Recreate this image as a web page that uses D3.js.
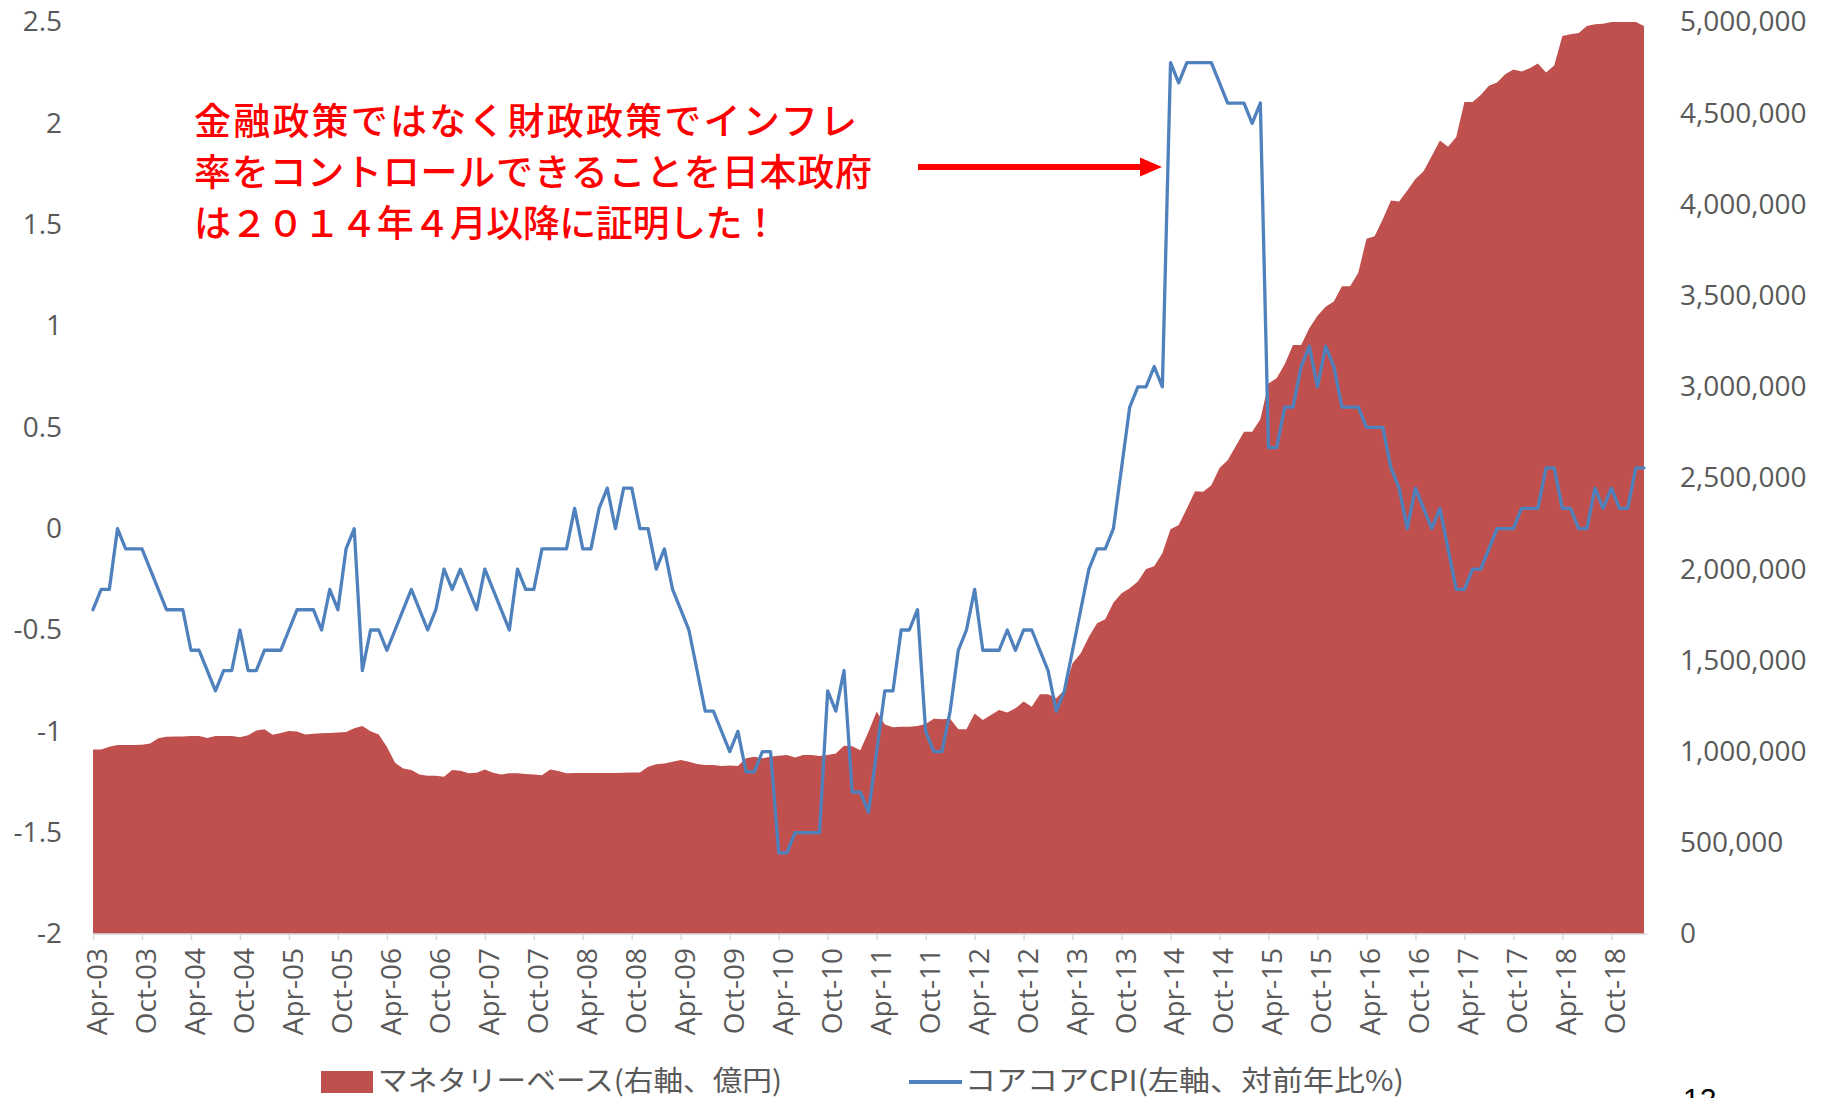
<!DOCTYPE html>
<html><head><meta charset="utf-8">
<script src="https://cdn.jsdelivr.net/npm/d3@7"></script>
<style>body{margin:0;background:#fff}</style>
</head><body><svg id="c" width="1824" height="1098"></svg>
<script>
// Core-core CPI (left axis, y/y %), monthly Apr-03 .. Feb-19
const cpi = [
 -0.4,-0.3,-0.3,0.0,-0.1,-0.1,-0.1,-0.2,-0.3,-0.4,-0.4,-0.4,
 -0.6,-0.6,-0.7,-0.8,-0.7,-0.7,-0.5,-0.7,-0.7,-0.6,-0.6,-0.6,
 -0.5,-0.4,-0.4,-0.4,-0.5,-0.3,-0.4,-0.1,0.0,-0.7,-0.5,-0.5,
 -0.6,-0.5,-0.4,-0.3,-0.4,-0.5,-0.4,-0.2,-0.3,-0.2,-0.3,-0.4,
 -0.2,-0.3,-0.4,-0.5,-0.2,-0.3,-0.3,-0.1,-0.1,-0.1,-0.1,0.1,
 -0.1,-0.1,0.1,0.2,0.0,0.2,0.2,0.0,0.0,-0.2,-0.1,-0.3,
 -0.4,-0.5,-0.7,-0.9,-0.9,-1.0,-1.1,-1.0,-1.2,-1.2,-1.1,-1.1,
 -1.6,-1.6,-1.5,-1.5,-1.5,-1.5,-0.8,-0.9,-0.7,-1.3,-1.3,-1.4,
 -1.1,-0.8,-0.8,-0.5,-0.5,-0.4,-1.0,-1.1,-1.1,-0.9,-0.6,-0.5,
 -0.3,-0.6,-0.6,-0.6,-0.5,-0.6,-0.5,-0.5,-0.6,-0.7,-0.9,-0.8,
 -0.6,-0.4,-0.2,-0.1,-0.1,0.0,0.3,0.6,0.7,0.7,0.8,0.7,
 2.3,2.2,2.3,2.3,2.3,2.3,2.2,2.1,2.1,2.1,2.0,2.1,
 0.4,0.4,0.6,0.6,0.8,0.9,0.7,0.9,0.8,0.6,0.6,0.6,
 0.5,0.5,0.5,0.3,0.2,0.0,0.2,0.1,0.0,0.1,-0.1,-0.3,
 -0.3,-0.2,-0.2,-0.1,0.0,0.0,0.0,0.1,0.1,0.1,0.3,0.3,
 0.1,0.1,0.0,0.0,0.2,0.1,0.2,0.1,0.1,0.3,0.3
];
// Monetary base (right axis, 100 million yen)
const monetaryBase = [
 1012000,1012000,1027000,1036000,1036000,1036000,1038000,1045000,1073000,1082000,1083000,1083000,
 1085000,1086000,1074000,1086000,1086000,1085000,1078000,1090000,1115000,1122000,1092000,1102000,
 1113000,1110000,1094000,1098000,1100000,1102000,1105000,1108000,1128000,1140000,1112000,1094000,
 1027000,939000,908000,899000,875000,868000,868000,862000,899000,895000,881000,884000,
 902000,884000,875000,881000,881000,877000,875000,871000,902000,893000,881000,882000,
 882000,882000,882000,882000,883000,884000,886000,886000,917000,931000,935000,945000,
 954000,945000,932000,927000,927000,921000,924000,921000,963000,972000,963000,972000,
 977000,981000,968000,981000,981000,976000,981000,990000,1032000,1030000,1008000,1109000,
 1220000,1149000,1133000,1136000,1136000,1140000,1151000,1180000,1177000,1180000,1122000,1122000,
 1209000,1173000,1200000,1228000,1215000,1237000,1274000,1246000,1314000,1314000,1292000,1338000,
 1484000,1539000,1630000,1703000,1725000,1816000,1868000,1895000,1932000,2001000,2016000,2087000,
 2219000,2243000,2333000,2428000,2424000,2460000,2555000,2597000,2675000,2753000,2753000,2822000,
 3018000,3047000,3125000,3229000,3229000,3321000,3390000,3439000,3468000,3551000,3551000,3625000,
 3811000,3825000,3919000,4021000,4016000,4076000,4139000,4182000,4266000,4350000,4316000,4370000,
 4562000,4562000,4600000,4651000,4668000,4713000,4739000,4729000,4747000,4772000,4723000,4762000,
 4923000,4933000,4940000,4978000,4987000,4991000,5000000,5000000,5000000,5000000,4978000
];
const categories = d3.timeMonth.range(new Date(2003,3,1), new Date(2019,2,1)).map(d3.timeFormat("%b-%y"));
const xTickLabels = ["Apr-03","Oct-03","Apr-04","Oct-04","Apr-05","Oct-05","Apr-06","Oct-06","Apr-07","Oct-07",
 "Apr-08","Oct-08","Apr-09","Oct-09","Apr-10","Oct-10","Apr-11","Oct-11","Apr-12","Oct-12","Apr-13","Oct-13",
 "Apr-14","Oct-14","Apr-15","Oct-15","Apr-16","Oct-16","Apr-17","Oct-17","Apr-18","Oct-18"];
const leftTicks = [-2,-1.5,-1,-0.5,0,0.5,1,1.5,2,2.5];
const rightTicks = [0,500000,1000000,1500000,2000000,2500000,3000000,3500000,4000000,4500000,5000000];
const legendLabels = ["マネタリーベース(右軸、億円)","コアコアCPI(左軸、対前年比%)"];
const annotationLines = ["金融政策ではなく財政政策でインフレ","率をコントロールできることを日本政府","は２０１４年４月以降に証明した！"];
const annotationWidths = [663, 678, 585];
const pageNumber = "12";

const svg = d3.select("#c");
svg.append("rect").attr("width",1824).attr("height",1098).attr("fill","#fff");
const L = 93, R = 1644, T = 22, B = 934;
const x = d3.scalePoint().domain(categories).range([L, R]);
const yL = d3.scaleLinear().domain([-2, 2.5]).range([B, T]);
const yR = d3.scaleLinear().domain([0, 5000000]).range([B, T]);
const tickFont = "'Open Sans', 'Liberation Sans', sans-serif";

// area
svg.append("path").datum(monetaryBase)
  .attr("d", d3.area().x((d,i)=>x(categories[i])).y0(yR(0)).y1(d=>yR(d)))
  .attr("fill","#c0504d");

// x axis
const xAxis = svg.append("g").attr("transform",`translate(0,${B})`)
  .call(d3.axisBottom(x).tickValues(xTickLabels).tickSize(6).tickPadding(0));
xAxis.select(".domain").remove();
xAxis.insert("line",":first-child").attr("x1",L).attr("x2",R+3).attr("y1",0).attr("y2",0)
  .attr("stroke","#d9d9d9").attr("stroke-width",1.5);
xAxis.selectAll(".tick line").attr("stroke","#d9d9d9").attr("stroke-width",1.5);
xAxis.selectAll(".tick text")
  .attr("transform","translate(0,14) rotate(-90)")
  .attr("text-anchor","end").attr("x",0).attr("y",0).attr("dy","0.48em")
  .attr("fill","#595959").style("font-family",tickFont).style("font-size","28px");

// line
svg.append("path").datum(cpi)
  .attr("d", d3.line().x((d,i)=>x(categories[i])).y(d=>yL(d)))
  .attr("fill","none").attr("stroke","#4f81bd").attr("stroke-width",3.3)
  .attr("stroke-linejoin","round").attr("stroke-linecap","round");

// left axis
const la = svg.append("g").attr("transform",`translate(${L},0)`)
  .call(d3.axisLeft(yL).tickValues(leftTicks).tickSize(0).tickPadding(31).tickFormat(d=>String(d)));
la.select(".domain").remove();
la.selectAll("text").attr("fill","#595959").style("font-family",tickFont).style("font-size","28px");

// right axis
const ra = svg.append("g").attr("transform",`translate(${R},0)`)
  .call(d3.axisRight(yR).tickValues(rightTicks).tickSize(0).tickPadding(36).tickFormat(d3.format(",")));
ra.select(".domain").remove();
ra.selectAll("text").attr("fill","#595959").style("font-family",tickFont).style("font-size","28px");

// annotation
annotationLines.forEach((t,k)=>{
  svg.append("text").attr("fill","#ff0000")
    .style("font-family","'Noto Sans CJK JP', sans-serif").style("font-size","37px").style("font-weight","500")
    .attr("x",194).attr("y",135 + k*51)
    .attr("textLength",annotationWidths[k]).attr("lengthAdjust","spacing")
    .text(t);
});
// arrow
svg.append("line").attr("x1",918).attr("x2",1145).attr("y1",167).attr("y2",167)
  .attr("stroke","#ff0000").attr("stroke-width",6);
svg.append("path").attr("d","M1140,157.5 L1162,167 L1140,176.5 Z").attr("fill","#ff0000");

// legend
const lg = svg.append("g");
lg.append("rect").attr("x",321).attr("y",1071).attr("width",52).attr("height",22).attr("fill","#c0504d");
lg.append("text").attr("x",378).attr("y",1091).text(legendLabels[0])
  .attr("fill","#595959").style("font-family","'Noto Sans CJK JP', sans-serif").style("font-size","28px")
  .attr("textLength",404).attr("lengthAdjust","spacingAndGlyphs");
lg.append("line").attr("x1",909).attr("x2",962).attr("y1",1082).attr("y2",1082)
  .attr("stroke","#4f81bd").attr("stroke-width",4);
lg.append("text").attr("x",965).attr("y",1091).text(legendLabels[1])
  .attr("fill","#595959").style("font-family","'Noto Sans CJK JP', sans-serif").style("font-size","28px")
  .attr("textLength",439).attr("lengthAdjust","spacingAndGlyphs");

// page number (partly below the page edge, as in the source)
svg.append("text").attr("x",1683).attr("y",1109).text(pageNumber)
  .attr("fill","#000").style("font-family","'Liberation Sans', sans-serif").style("font-size","30px");
</script></body></html>
